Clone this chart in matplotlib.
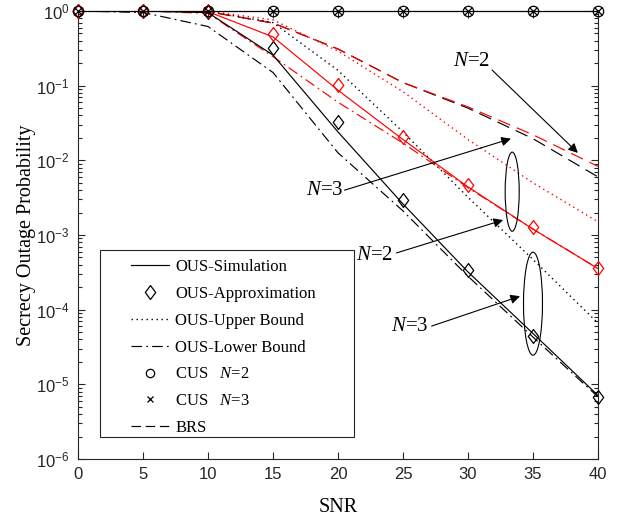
import numpy as np
import matplotlib
matplotlib.use("Agg")
import matplotlib.pyplot as plt
from matplotlib.path import Path
from matplotlib.patches import Ellipse, Rectangle
from matplotlib.lines import Line2D

plt.rcParams['font.family'] = ['Liberation Sans', 'DejaVu Sans']
plt.rcParams['mathtext.fontset'] = 'custom'
plt.rcParams['mathtext.rm'] = 'Liberation Sans'
plt.rcParams['mathtext.it'] = 'Liberation Serif:italic'

# ---------------- data ----------------
snr = [0, 5, 10, 15, 20, 25, 30, 35, 40]

# N = 3 (black)
sim3 = [1.0, 1.0, 0.95, 0.257, 0.024, 2.6e-3, 3.2e-4, 4.8e-5, 7.1e-6]
app3 = [1.0, 1.0, 0.98, 0.32, 0.033, 2.95e-3, 3.4e-4, 4.5e-5, 6.8e-6]
upper3 = [1.0, 1.0, 0.99, 0.70, 0.16, 0.024, 3.2e-3, 4.7e-4, 6.6e-5]
lower3 = [1.0, 0.955, 0.62, 0.15, 0.0126, 2.1e-3, 2.8e-4, 4.3e-5, 6.8e-6]
brs3 = [1.0, 1.0, 0.98, 0.69, 0.31, 0.11, 0.05, 0.0195, 6.0e-3]

# N = 2 (red)
sim2 = [1.0, 1.0, 0.98, 0.45, 0.087, 0.019, 4.4e-3, 1.2e-3, 3.55e-4]
app2 = [1.0, 1.0, 1.0, 0.49, 0.102, 0.0204, 4.7e-3, 1.29e-3, 3.6e-4]
upper2 = [1.0, 1.0, 1.0, 0.76, 0.29, 0.083, 0.019, 5.0e-3, 1.5e-3]
lower2 = [1.0, 1.0, 0.93, 0.245, 0.06, 0.017, 4.3e-3, 1.2e-3, 3.55e-4]
brs2 = [1.0, 1.0, 0.98, 0.69, 0.31, 0.11, 0.052, 0.022, 8.3e-3]

# CUS
cus2 = [1.0, 1.0, 1.0, 1.0, 1.0, 1.0, 1.0, 1.0, 1.0]
cus3 = [1.0, 1.0, 1.0, 1.0, 1.0, 1.0, 1.0, 1.0, 1.0]

xticks = [0, 5, 10, 15, 20, 25, 30, 35, 40]
legend_labels = ['OUS-Simulation', 'OUS-Approximation', 'OUS-Upper Bound',
                 'OUS-Lower Bound', 'CUS   $N$=2', 'CUS   $N$=3', 'BRS']

# ---------------- figure ----------------
fig = plt.figure(figsize=(6.22, 5.18), dpi=100)
ax = fig.add_axes([78/622, 59/518, 520/622, 448/518])
ax.set_yscale('log')

diamond = Path([(0, 1), (0.75, 0), (0, -1), (-0.75, 0), (0, 1)],
               [Path.MOVETO, Path.LINETO, Path.LINETO, Path.LINETO, Path.CLOSEPOLY])
lw = 0.85
dms = 10
RED = '#ff0000'
DASH = (0, (11, 6))
DOT = (0, (1, 2.6))
DASHDOT = (0, (9, 3.5, 1.5, 3.5))

# BRS (dashed)
ax.plot(snr, brs3, color='k', ls=DASH, lw=lw)
ax.plot(snr, brs2, color=RED, ls=DASH, lw=lw)
# upper bounds (dotted)
ax.plot(snr, upper3, color='k', ls=DOT, lw=1.0)
ax.plot(snr, upper2, color=RED, ls=DOT, lw=1.0)
# lower bounds (dash-dot)
ax.plot(snr, lower3, color='k', ls=DASHDOT, lw=lw)
ax.plot(snr, lower2, color=RED, ls=DASHDOT, lw=lw)
# simulation (solid)
ax.plot(snr, sim3, color='k', ls='-', lw=lw)
ax.plot(snr, sim2, color=RED, ls='-', lw=lw)
# approximation (diamonds)
ax.plot(snr, app3, ls='none', marker=diamond, ms=dms, mfc='none', mec='k', mew=0.9,
        clip_on=False, zorder=4)
ax.plot(snr, app2, ls='none', marker=diamond, ms=dms, mfc='none', mec=RED, mew=0.9,
        clip_on=False, zorder=4)
# CUS
ax.plot(snr, cus2, color='k', lw=lw, marker='o', ms=7.5, mfc='none', mec='k', mew=0.9,
        clip_on=False, zorder=4)
ax.plot(snr, cus3, color='k', lw=lw, ls='none', marker='x', ms=6, mec='k', mew=0.9,
        clip_on=False, zorder=4)

ax.set_xlim(0, 40)
ax.set_ylim(1e-6, 1)
ax.set_xticks(xticks)
ax.set_xticklabels([str(v) for v in xticks])
ax.tick_params(axis='both', which='both', direction='in', top=True, right=True,
               labelsize=12, width=0.8, colors='#262626')
ax.tick_params(axis='both', which='major', length=5, pad=6)
ax.tick_params(axis='y', which='minor', length=3)
ax.tick_params(axis='x', which='minor', bottom=False, top=False)
for s in ax.spines.values():
    s.set_linewidth(0.8)
    s.set_color('#262626')

ax.set_xlabel('SNR', family='Liberation Serif', fontsize=14.5, labelpad=11)
ax.set_ylabel('Secrecy Outage Probability', family='Liberation Serif', fontsize=14.5, labelpad=0)

# ---------------- legend ----------------
handles = [
    Line2D([], [], color='k', ls='-', lw=lw),
    Line2D([], [], color='k', ls='none', marker=diamond, ms=dms, mfc='none', mec='k', mew=0.9),
    Line2D([], [], color='k', ls=DOT, lw=1.0),
    Line2D([], [], color='k', ls=DASHDOT, lw=lw),
    Line2D([], [], color='k', ls='none', marker='o', ms=6, mfc='none', mec='k', mew=0.9),
    Line2D([], [], color='k', ls='none', marker='x', ms=5, mec='k', mew=0.9),
    Line2D([], [], color='k', ls=(0, (8, 4)), lw=lw),
]
frame = Rectangle((22/520, 22/448), 254/520, 187/448, transform=ax.transAxes,
                  facecolor='white', edgecolor='#262626', lw=0.8, zorder=5)
ax.add_patch(frame)
leg = ax.legend(handles, legend_labels, loc='upper left',
                bbox_to_anchor=(53/520, 200/448), frameon=False,
                prop={'family': 'Liberation Serif', 'size': 12},
                handlelength=2.3, handletextpad=0.35, labelspacing=0.65,
                borderaxespad=0, borderpad=0)
leg.set_zorder(6)

# ---------------- annotations ----------------
tfont = dict(family='Liberation Serif', fontsize=15, ha='center', va='center', zorder=7)
arrow = dict(arrowstyle='-|>', color='k', lw=0.8, mutation_scale=14, shrinkA=0, shrinkB=0)

texts = [('$N$=2', 30.3, -0.67), ('$N$=3', 19.0, -2.41),
         ('$N$=2', 22.8, -3.27), ('$N$=3', 25.5, -4.23)]
for t, x, lg in texts:
    ax.text(x, 10**lg, t, **tfont)

arrows = [((31.85, -0.79), (38.45, -1.90)),
          ((20.5, -2.40), (33.3, -1.71)),
          ((24.5, -3.24), (32.7, -2.80)),
          ((27.2, -4.22), (34.0, -3.82))]
for (x0, l0), (x1, l1) in arrows:
    ax.annotate('', xy=(x1, 10**l1), xytext=(x0, 10**l0), arrowprops=arrow, zorder=7)

ellipses = [(33.4, -2.42, 1.08, 1.06), (35.0, -3.92, 1.46, 1.38)]
for cx, cl, w, h in ellipses:
    ax.add_patch(Ellipse((cx/40, (cl+6)/6), w/40, h/6, transform=ax.transAxes,
                         fill=False, edgecolor='k', lw=0.8, zorder=7))

fig.savefig('out.png', dpi=100)
